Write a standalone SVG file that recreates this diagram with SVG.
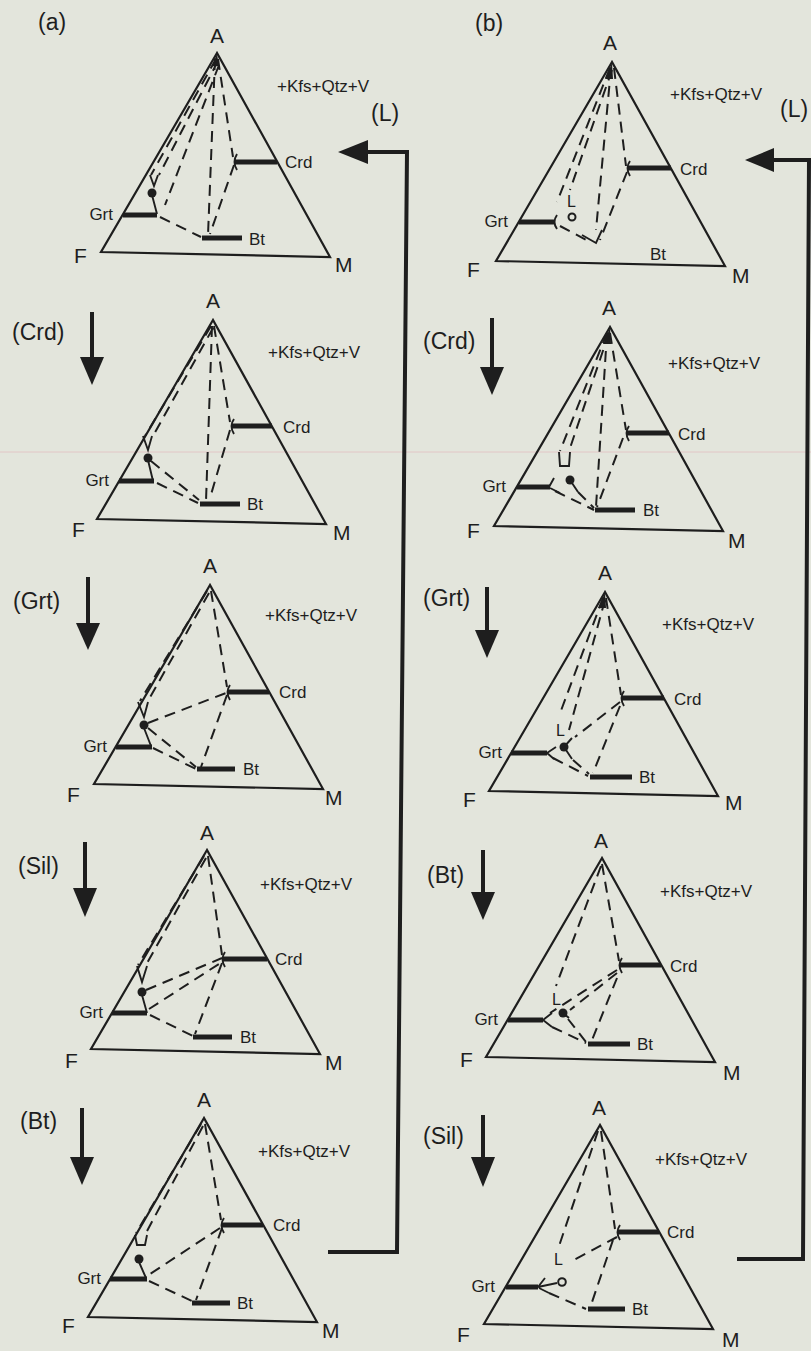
<svg xmlns="http://www.w3.org/2000/svg" width="811" height="1351" viewBox="0 0 811 1351">
<style>
.t{fill:none;stroke:#1e1e1e;stroke-width:2.2;stroke-linejoin:miter}
.b{stroke:#1e1e1e;stroke-width:5}
.d{fill:none;stroke:#1e1e1e;stroke-width:2;stroke-dasharray:11 7}
.s{fill:none;stroke:#1e1e1e;stroke-width:1.9}
.f{fill:#1e1e1e}
.o{fill:none;stroke:#1e1e1e;stroke-width:2}
.c{fill:none;stroke:#1e1e1e;stroke-width:4}
text{font-family:"Liberation Sans",Arial,Helvetica,sans-serif;fill:#1e1e1e}
.v{font-size:21px}
.sm{font-size:17px}
.l{font-size:16px}
.p{font-size:23px}
</style>
<rect width="811" height="1351" fill="#e3e5dc"/>
<line x1="0" y1="452" x2="811" y2="452" stroke="#e2c6c6" stroke-width="1"/>

<text class="p" x="38" y="30">(a)</text>
<text class="p" x="475" y="31">(b)</text>

<!-- connectors -->
<g id="connectors">
  <path class="c" d="M366,152 L407,152 L397,1252 L328,1252"/>
  <polygon class="f" points="338,152 368,140 368,164"/>
  <text class="p" x="371" y="121">(L)</text>
  <path class="c" d="M772,160 L811,160 M809,160 L803,1259 L737,1259"/>
  <polygon class="f" points="745,160 774,148 774,172"/>
  <text class="p" x="780" y="117">(L)</text>

  <path class="c" d="M92,312 V358"/><polygon class="f" points="80,357 104,357 92,385"/>
  <text class="p" x="12" y="340">(Crd)</text>
  <path class="c" d="M88,577 V624"/><polygon class="f" points="76,623 100,623 88,650"/>
  <text class="p" x="13" y="609">(Grt)</text>
  <path class="c" d="M85,842 V889"/><polygon class="f" points="73,888 97,888 85,917"/>
  <text class="p" x="18" y="874">(Sil)</text>
  <path class="c" d="M82,1108 V1158"/><polygon class="f" points="70,1157 94,1157 82,1185"/>
  <text class="p" x="20" y="1129">(Bt)</text>

  <path class="c" d="M492,318 V368"/><polygon class="f" points="480,367 504,367 492,395"/>
  <text class="p" x="423" y="349">(Crd)</text>
  <path class="c" d="M487,587 V631"/><polygon class="f" points="475,630 499,630 487,658"/>
  <text class="p" x="423" y="606">(Grt)</text>
  <path class="c" d="M483,850 V893"/><polygon class="f" points="471,892 495,892 483,920"/>
  <text class="p" x="427" y="883">(Bt)</text>
  <path class="c" d="M483,1115 V1158"/><polygon class="f" points="471,1157 495,1157 483,1187"/>
  <text class="p" x="423" y="1144">(Sil)</text>
</g>

<!-- a1 -->
<g id="a1" transform="translate(217,53)">
  <polygon class="t" points="0,0 -116,199 113,204"/>
  <polygon class="f" points="0,1 -5,13 2,13"/>
  <line class="b" x1="18" y1="109" x2="60" y2="109"/>
  <line class="b" x1="-94" y1="162" x2="-60" y2="162"/>
  <line class="b" x1="-15" y1="185" x2="25" y2="185"/>
  <path class="d" d="M1,6 L16,104 M-2,6 L-9,182 M17,112 L-7,181 M-1,6 L-66,122 M1,8 L-58,122 M2,12 L-52,152 M-57,164 L-16,184"/>
  <path class="s" d="M-67,122 L-63,133 L-59,122 M-65,142 L-60,161 M20,101 Q15,109 20,117"/>
  <circle class="f" cx="-65" cy="140" r="4.5"/>
  <text class="v" x="0" y="-10" text-anchor="middle">A</text>
  <text class="v" x="-143" y="210">F</text>
  <text class="v" x="118" y="219">M</text>
  <text class="sm" x="60" y="39">+Kfs+Qtz+V</text>
  <text class="sm" x="68" y="115">Crd</text>
  <text class="sm" x="-104" y="167" text-anchor="end">Grt</text>
  <text class="sm" x="32" y="192">Bt</text>
</g>

<!-- a2 -->
<g id="a2" transform="translate(213,320)">
  <polygon class="t" points="0,0 -116,199 113,204"/>
  <line class="b" x1="19" y1="106" x2="59" y2="106"/>
  <line class="b" x1="-94" y1="161" x2="-59" y2="161"/>
  <line class="b" x1="-13" y1="184" x2="27" y2="184"/>
  <path class="d" d="M1,6 L17,102 M-1,6 L-7,181 M17,110 L-3,178 M-2,6 L-68,116 M0,8 L-60,116 M-62,141 L-14,180 M-56,163 L-15,183"/>
  <path class="s" d="M-70,116 L-65,130 L-61,116 M-65,140 L-60,161 M21,99 Q16,106 21,114"/>
  <circle class="f" cx="-65" cy="138" r="4.5"/>
  <text class="v" x="0" y="-12" text-anchor="middle">A</text>
  <text class="v" x="-141" y="217">F</text>
  <text class="v" x="120" y="220">M</text>
  <text class="sm" x="55" y="38">+Kfs+Qtz+V</text>
  <text class="sm" x="70" y="113">Crd</text>
  <text class="sm" x="-104" y="166" text-anchor="end">Grt</text>
  <text class="sm" x="34" y="190">Bt</text>
</g>

<!-- a3 -->
<g id="a3" transform="translate(210,585)">
  <polygon class="t" points="0,0 -116,199 113,204"/>
  <line class="b" x1="18" y1="107" x2="59" y2="107"/>
  <line class="b" x1="-94" y1="162" x2="-58" y2="162"/>
  <line class="b" x1="-13" y1="184" x2="25" y2="184"/>
  <path class="d" d="M1,6 L17,102 M17,110 L-9,182 M-3,6 L-70,116 M-1,8 L-62,116 M-62,138 L16,108 M-62,143 L-14,182 M-57,163 L-14,184"/>
  <path class="s" d="M-72,117 L-66,132 L-62,117 M-66,143 L-59,161 M20,100 Q15,107 20,115"/>
  <circle class="f" cx="-66" cy="140" r="4.5"/>
  <text class="v" x="0" y="-12" text-anchor="middle">A</text>
  <text class="v" x="-143" y="217">F</text>
  <text class="v" x="115" y="220">M</text>
  <text class="sm" x="55" y="36">+Kfs+Qtz+V</text>
  <text class="sm" x="69" y="113">Crd</text>
  <text class="sm" x="-103" y="167" text-anchor="end">Grt</text>
  <text class="sm" x="33" y="190">Bt</text>
</g>

<!-- a4 -->
<g id="a4" transform="translate(207,850)">
  <polygon class="t" points="0,0 -116,199 113,204"/>
  <line class="b" x1="16" y1="109" x2="60" y2="109"/>
  <line class="b" x1="-95" y1="163" x2="-60" y2="163"/>
  <line class="b" x1="-14" y1="187" x2="25" y2="187"/>
  <path class="d" d="M1,6 L15,105 M-3,6 L-69,115 M-1,8 L-61,115 M-61,140 L15,108 M-58,159 L15,112 M15,113 L-12,184 M-57,165 L-14,186"/>
  <path class="s" d="M-70,116 L-65,132 L-60,116 M-65,145 L-60,163 M18,102 Q13,109 18,117"/>
  <circle class="f" cx="-65" cy="142" r="4.5"/>
  <text class="v" x="0" y="-10" text-anchor="middle">A</text>
  <text class="v" x="-142" y="218">F</text>
  <text class="v" x="118" y="220">M</text>
  <text class="sm" x="53" y="40">+Kfs+Qtz+V</text>
  <text class="sm" x="68" y="115">Crd</text>
  <text class="sm" x="-104" y="168" text-anchor="end">Grt</text>
  <text class="sm" x="33" y="193">Bt</text>
</g>

<!-- a5 -->
<g id="a5" transform="translate(204,1118)">
  <polygon class="t" points="0,0 -116,199 113,204"/>
  <line class="b" x1="18" y1="107" x2="59" y2="107"/>
  <line class="b" x1="-94" y1="161" x2="-57" y2="161"/>
  <line class="b" x1="-12" y1="185" x2="26" y2="185"/>
  <path class="d" d="M1,6 L17,102 M18,110 L-8,182 M-3,6 L-68,115 M-1,8 L-58,115 M16,110 L-57,158 M-55,163 L-12,183"/>
  <path class="s" d="M-69,117 L-67,127 L-59,127 L-57,117 M-65,144 L-58,160 M20,100 Q15,107 20,115"/>
  <circle class="f" cx="-65" cy="141" r="4.5"/>
  <text class="v" x="0" y="-11" text-anchor="middle">A</text>
  <text class="v" x="-142" y="215">F</text>
  <text class="v" x="118" y="220">M</text>
  <text class="sm" x="54" y="39">+Kfs+Qtz+V</text>
  <text class="sm" x="69" y="113">Crd</text>
  <text class="sm" x="-103" y="166" text-anchor="end">Grt</text>
  <text class="sm" x="33" y="191">Bt</text>
</g>

<!-- b1 -->
<g id="b1" transform="translate(612,62)">
  <polygon class="t" points="0,0 -116,199 113,204"/>
  <polygon class="f" points="0,1 -7,17 1,17"/>
  <line class="b" x1="15" y1="106" x2="59" y2="106"/>
  <line class="b" x1="-93" y1="160" x2="-57" y2="160"/>
  <path class="d" d="M2,6 L14,104 M-1,6 L-16,168 M15,110 L-12,178 M-2,6 L-55,140 M0,8 L-42,128 M-52,164 L-22,180"/>
  <path class="s" d="M-10,168 L-16,181 L-30,173 M-55,153 Q-60,160 -55,167 M18,99 Q13,106 18,114"/>
  <circle class="o" cx="-40" cy="155" r="3.5"/>
  <text class="l" x="-45" y="145">L</text>
  <text class="v" x="-2" y="-12" text-anchor="middle">A</text>
  <text class="v" x="-145" y="215">F</text>
  <text class="v" x="120" y="221">M</text>
  <text class="sm" x="58" y="38">+Kfs+Qtz+V</text>
  <text class="sm" x="68" y="113">Crd</text>
  <text class="sm" x="-104" y="165" text-anchor="end">Grt</text>
  <text class="sm" x="38" y="198">Bt</text>
</g>

<!-- b2 -->
<g id="b2" transform="translate(610,327)">
  <polygon class="t" points="0,0 -116,199 113,204"/>
  <polygon class="f" points="0,1 -7,17 1,17"/>
  <line class="b" x1="17" y1="106" x2="59" y2="106"/>
  <line class="b" x1="-93" y1="160" x2="-60" y2="160"/>
  <line class="b" x1="-15" y1="183" x2="25" y2="183"/>
  <path class="d" d="M0,6 L16,103 M-3,6 L-14,180 M13,111 L-13,180 M-3,6 L-50,124 M-1,6 L-41,124 M-55,164 L-16,183 M-32,165 L-16,181"/>
  <path class="s" d="M-51,125 L-50,139 L-41,139 L-40,125 M-61,160 L-56,151 M-60,161 L-50,166 M-40,153 L-32,165 M19,99 Q14,106 19,114"/>
  <circle class="f" cx="-40" cy="153" r="4.5"/>
  <text class="v" x="-1" y="-12" text-anchor="middle">A</text>
  <text class="v" x="-143" y="211">F</text>
  <text class="v" x="118" y="221">M</text>
  <text class="sm" x="58" y="42">+Kfs+Qtz+V</text>
  <text class="sm" x="68" y="113">Crd</text>
  <text class="sm" x="-104" y="165" text-anchor="end">Grt</text>
  <text class="sm" x="33" y="189">Bt</text>
</g>

<!-- b3 -->
<g id="b3" transform="translate(605,592)">
  <polygon class="t" points="0,0 -116,199 113,204"/>
  <polygon class="f" points="0,1 -7,16 1,16"/>
  <line class="b" x1="17" y1="106" x2="59" y2="106"/>
  <line class="b" x1="-94" y1="161" x2="-58" y2="161"/>
  <line class="b" x1="-15" y1="185" x2="27" y2="185"/>
  <path class="d" d="M1,6 L16,103 M-2,6 L-46,124 M0,8 L-36,138 M15,110 L-30,145 M15,114 L-12,181 M-52,166 L-17,184 M-32,168 L-16,182"/>
  <path class="s" d="M-58,161 L-49,155 M-58,161 L-51,167 M-41,155 L-33,146 M-41,155 L-33,167 M19,99 Q14,106 19,114"/>
  <circle class="f" cx="-41" cy="155" r="4.5"/>
  <text class="l" x="-49" y="144">L</text>
  <text class="v" x="0" y="-12" text-anchor="middle">A</text>
  <text class="v" x="-142" y="215">F</text>
  <text class="v" x="120" y="218">M</text>
  <text class="sm" x="57" y="38">+Kfs+Qtz+V</text>
  <text class="sm" x="69" y="113">Crd</text>
  <text class="sm" x="-103" y="166" text-anchor="end">Grt</text>
  <text class="sm" x="34" y="191">Bt</text>
</g>

<!-- b4 -->
<g id="b4" transform="translate(602,858)">
  <polygon class="t" points="0,0 -116,199 113,204"/>
  <line class="b" x1="18" y1="107" x2="59" y2="107"/>
  <line class="b" x1="-94" y1="162" x2="-59" y2="162"/>
  <line class="b" x1="-14" y1="186" x2="28" y2="186"/>
  <path class="d" d="M0,6 L17,103 M-1,8 L-46,128 M15,112 L-52,155 M15,115 L-32,152 M15,120 L-10,182 M-50,169 L-16,185 M-34,161 L-16,184"/>
  <path class="s" d="M-59,162 L-50,155 M-59,162 L-50,169 M-39,155 L-33,160 M20,100 Q15,107 20,115"/>
  <circle class="f" cx="-39" cy="155" r="4.5"/>
  <text class="l" x="-50" y="147">L</text>
  <text class="v" x="-1" y="-10" text-anchor="middle">A</text>
  <text class="v" x="-142" y="209">F</text>
  <text class="v" x="121" y="222">M</text>
  <text class="sm" x="58" y="39">+Kfs+Qtz+V</text>
  <text class="sm" x="68" y="114">Crd</text>
  <text class="sm" x="-104" y="167" text-anchor="end">Grt</text>
  <text class="sm" x="35" y="192">Bt</text>
</g>

<!-- b5 -->
<g id="b5" transform="translate(600,1125)">
  <polygon class="t" points="0,0 -116,199 113,204"/>
  <line class="b" x1="18" y1="107" x2="59" y2="107"/>
  <line class="b" x1="-94" y1="162" x2="-62" y2="162"/>
  <line class="b" x1="-12" y1="184" x2="25" y2="184"/>
  <path class="d" d="M1,6 L15,104 M-2,6 L-42,124 M17,112 L-30,137 M13,115 L-10,183 M-51,168 L-14,184"/>
  <path class="s" d="M-62,162 L-55,153 M-62,162 L-43,158 M-61,163 L-51,168 M20,100 Q15,107 20,115"/>
  <circle class="o" cx="-38" cy="157" r="3.8"/>
  <text class="l" x="-46" y="140">L</text>
  <text class="v" x="-1" y="-10" text-anchor="middle">A</text>
  <text class="v" x="-143" y="217">F</text>
  <text class="v" x="122" y="222">M</text>
  <text class="sm" x="55" y="40">+Kfs+Qtz+V</text>
  <text class="sm" x="67" y="113">Crd</text>
  <text class="sm" x="-105" y="167" text-anchor="end">Grt</text>
  <text class="sm" x="32" y="190">Bt</text>
</g>
</svg>
